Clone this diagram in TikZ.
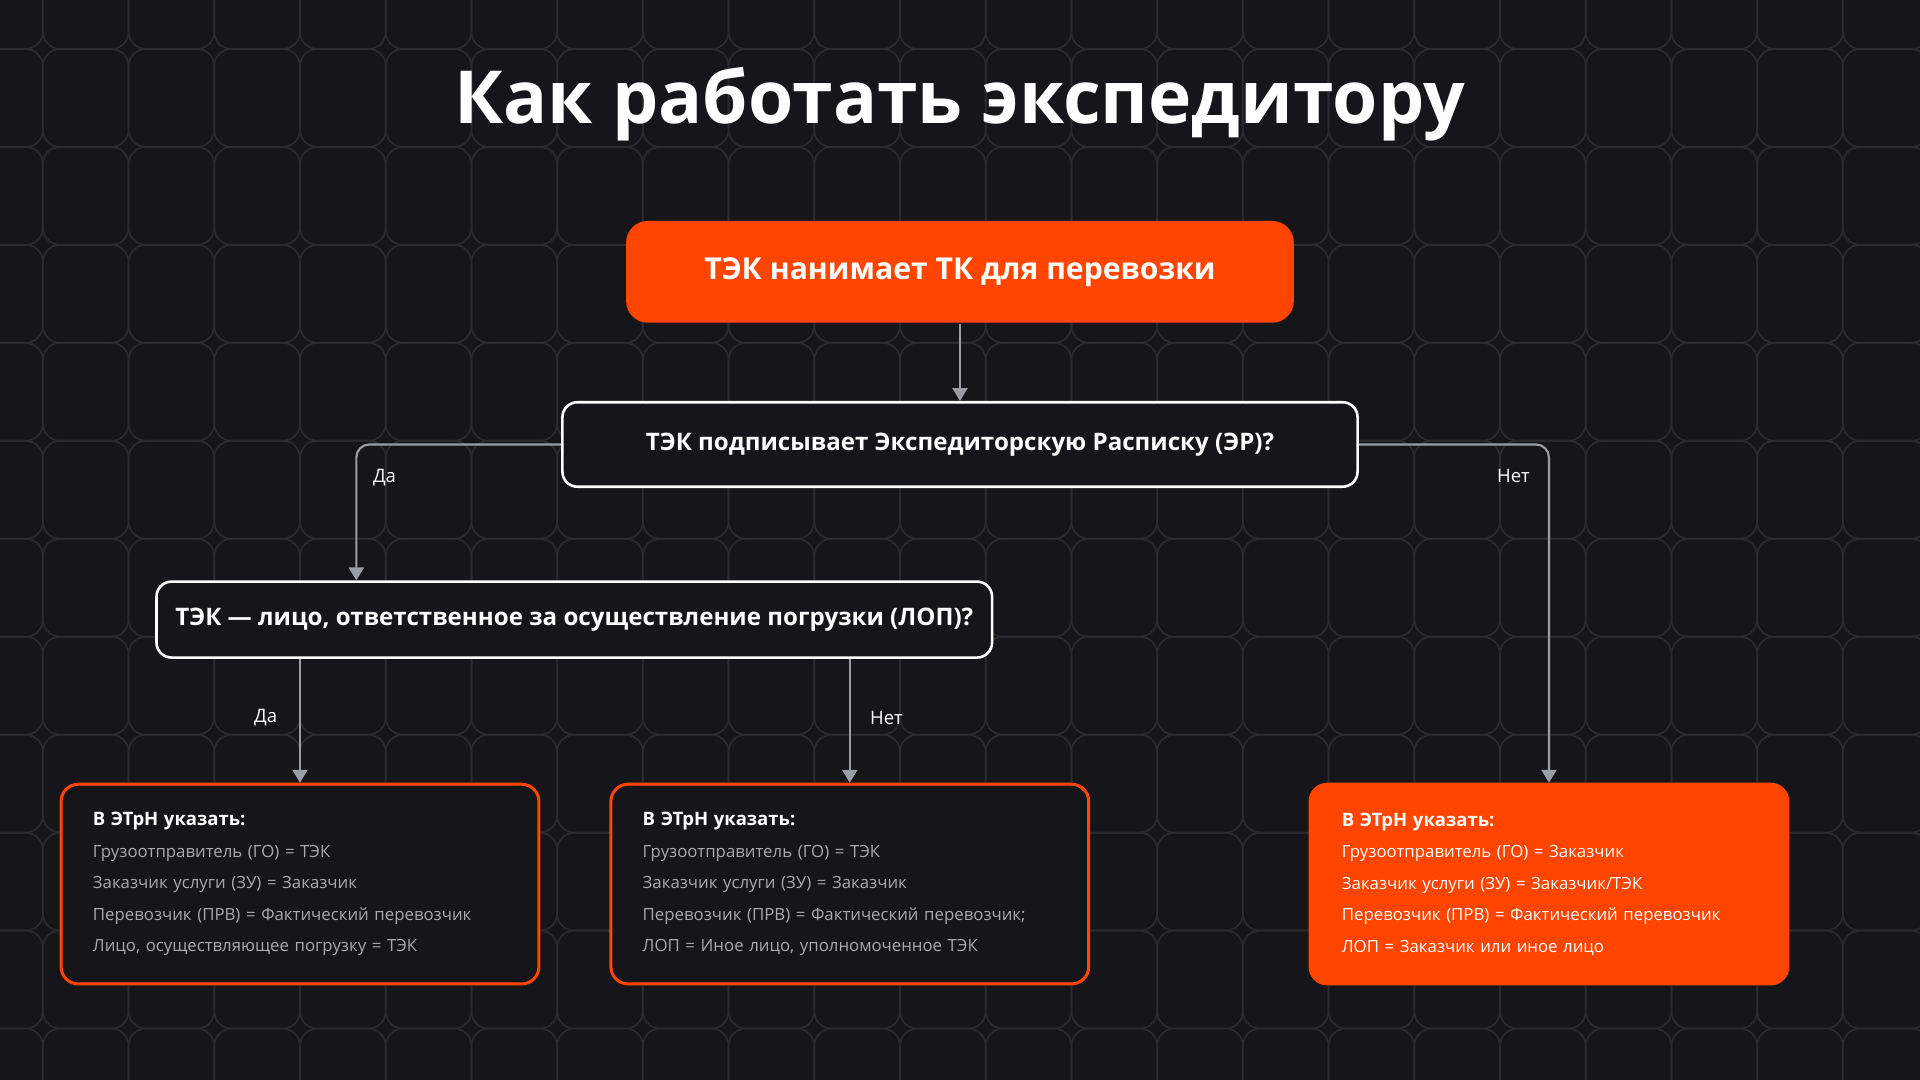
\documentclass[tikz,border=0pt]{standalone}
\usepackage{fontspec}
\setmainfont{Open Sans}
\usetikzlibrary{positioning,arrows.meta}
\definecolor{bgdark}{HTML}{16161A}
\definecolor{gridgrey}{HTML}{2A2A30}
\definecolor{flame}{HTML}{FF4500}
\definecolor{linkgrey}{HTML}{9A9CA6}
\definecolor{notegrey}{HTML}{A8A8B0}
\tikzset{
  stage/.style={rounded corners=5pt, fill=flame, text=white, font=\bfseries\fontsize{7}{9}\selectfont, minimum width=5.45cm, minimum height=0.83cm},
  query/.style={rounded corners=3.5pt, draw=white, line width=0.6pt, fill=bgdark, text=white, font=\bfseries\fontsize{5.6}{7}\selectfont},
  result/.style={rounded corners=4pt, draw=flame, line width=0.7pt, fill=bgdark, text width=3.38cm, inner xsep=0.26cm, minimum height=1.63cm, align=left, text=notegrey, font=\fontsize{3.9}{7.3}\selectfont},
  link/.style={draw=linkgrey, line width=0.5pt, rounded corners=3pt, -{Triangle[length=3pt,width=3.5pt]}},
  tag/.style={text=white, font=\fontsize{4.3}{5}\selectfont}
}
\begin{document}
\begin{tikzpicture}[x=0.01cm, y=-0.01cm]
  \fill[bgdark] (0,0) rectangle (1568,882);
  \useasboundingbox (0,0) rectangle (1568,882);
  % background grid
  \foreach \i in {-1,...,22} {
    \foreach \j in {-1,...,11} {
      \draw[gridgrey, line width=0.4pt, rounded corners=4pt] (35+70*\i, 40+80*\j) rectangle +(70, 80);
    }
  }
  \node[text=white, font=\bfseries\fontsize{17}{20}\selectfont] (title) at (784, 85) {Как работать экспедитору};

  \node[stage] (hire) at (784, 222) {ТЭК нанимает ТК для перевозки};
  \node[query, minimum width=6.49cm, minimum height=0.69cm] (receipt) at (784, 363) {ТЭК подписывает Экспедиторскую Расписку (ЭР)?};
  \node[query, minimum width=6.82cm, minimum height=0.62cm] (loader) at (469, 506) {ТЭК — лицо, ответственное за осуществление погрузки (ЛОП)?};

  \node[result] (resA) at (245, 722) {{\color{white}\bfseries\fontsize{4.3}{7.3}\selectfont В ЭТрН указать:}\\
    Грузоотправитель (ГО) = ТЭК\\Заказчик услуги (ЗУ) = Заказчик\\Перевозчик (ПРВ) = Фактический перевозчик\\Лицо, осуществляющее погрузку = ТЭК};
  \node[result] (resB) at (694, 722) {{\color{white}\bfseries\fontsize{4.3}{7.3}\selectfont В ЭТрН указать:}\\
    Грузоотправитель (ГО) = ТЭК\\Заказчик услуги (ЗУ) = Заказчик\\Перевозчик (ПРВ) = Фактический перевозчик;\\ЛОП = Иное лицо, уполномоченное ТЭК};
  \node[result, fill=flame, text=white] (resC) at (1265, 722) {{\bfseries\fontsize{4.3}{7.3}\selectfont В ЭТрН указать:}\\
    Грузоотправитель (ГО) = Заказчик\\Заказчик услуги (ЗУ) = Заказчик/ТЭК\\Перевозчик (ПРВ) = Фактический перевозчик\\ЛОП = Заказчик или иное лицо};

  \draw[link] (hire) -- (receipt);
  \draw[link] (receipt.west) -| (291, 474);
  \draw[link] (receipt.east) -| (resC.north);
  \draw[link] (loader.south -| resA.north) -- (resA.north);
  \draw[link] (loader.south -| resB.north) -- (resB.north);

  \node[tag] (yesA) at (314, 390) {Да};
  \node[tag] (noA) at (1236, 389) {Нет};
  \node[tag] (yesB) at (217, 586) {Да};
  \node[tag] (noB) at (724, 586) {Нет};
\end{tikzpicture}
\end{document}
